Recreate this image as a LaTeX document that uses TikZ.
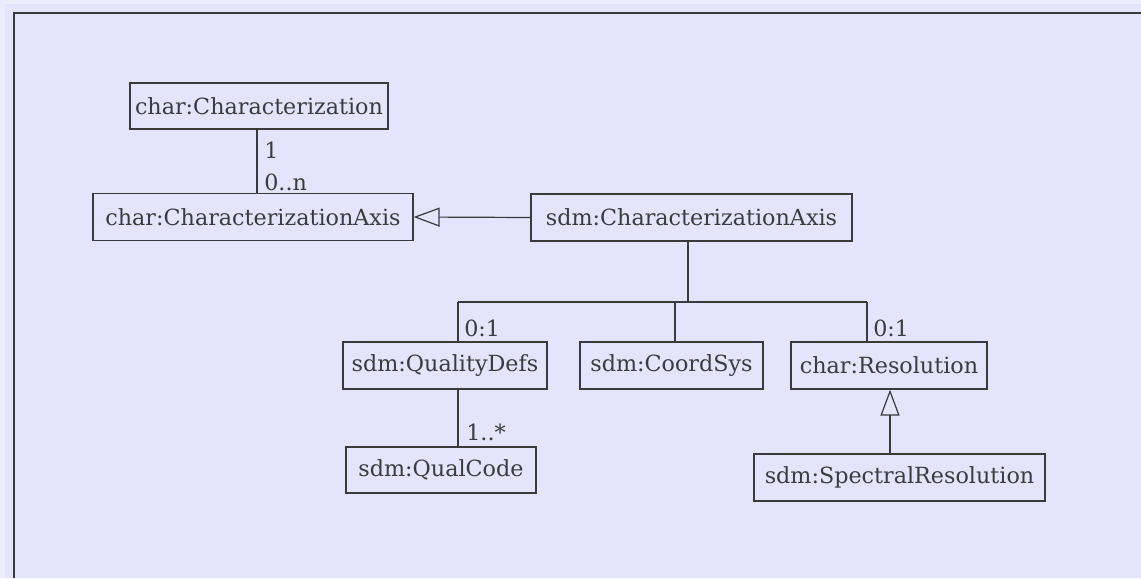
\documentclass[tikz,border=0pt]{standalone}
\usepackage{fontspec}
\setmainfont{DejaVu Serif}
\usetikzlibrary{arrows.meta}

\definecolor{bgpane}{HTML}{E4E4FC}
\definecolor{bgedge}{HTML}{ECECFB}
\definecolor{umlline}{HTML}{3A3A3A}
\definecolor{umltext}{HTML}{3C3C3C}

\newlength\pxl
\setlength\pxl{0.75pt}

\tikzset{
  umlbox/.style={draw=umlline, line width=1.2\pxl, text=umltext, inner sep=0pt,
    minimum height=47\pxl, font=\fontsize{16.7pt}{19pt}\selectfont},
  mult/.style={text=umltext, inner sep=0pt, anchor=west,
    font=\fontsize{16.7pt}{19pt}\selectfont},
  link/.style={draw=umlline, line width=1.2\pxl},
  gen/.style={link, -{Triangle[open, length=19.5pt, width=14.25pt]}}
}

\begin{document}
\begin{tikzpicture}[x=0.75pt, y=-0.75pt]
\fill[bgedge] (0,0) rectangle (1141,578);
\fill[bgpane] (5,4) rectangle (1141,578);
\useasboundingbox (0,0) rectangle (1141,578);
\draw[umlline, line width=1.6\pxl] (14,578) -- (14,13) -- (1141,13);

% classes
\node[umlbox, minimum width=258\pxl, minimum height=46\pxl] (charChar) at (259,106) {char:Characterization};
\node[umlbox, minimum width=320\pxl] (charAxis) at (253,217) {char:CharacterizationAxis};
\node[umlbox, minimum width=321\pxl] (sdmAxis) at (691.5,217.5) {sdm:CharacterizationAxis};
\node[umlbox, minimum width=204\pxl] (qualDefs) at (445,365.5) {sdm:QualityDefs};
\node[umlbox, minimum width=183\pxl] (coordSys) at (671.5,365.5) {sdm:CoordSys};
\node[umlbox, minimum width=196\pxl] (resolution) at (889,365.5) {char:Resolution};
\node[umlbox, minimum width=190\pxl, minimum height=46\pxl] (qualCode) at (441,470) {sdm:QualCode};
\node[umlbox, minimum width=291\pxl] (spectral) at (899.5,477.5) {sdm:SpectralResolution};

% associations
\draw[link] (257,0 |- charChar.south) -- (257,0 |- charAxis.north);
\node[mult] (multOne) at (264,150) {1};
\node[mult] (multMany) at (264,182) {0..n};

\draw[gen] (sdmAxis.west) -- (charAxis.east);

\coordinate (bus) at (688,302);
\coordinate (busL) at (458,302);
\coordinate (busR) at (867,302);
\draw[link] (bus |- sdmAxis.south) -- (bus);
\draw[link] (busL) -- (busR);
\draw[link] (busL) -- (busL |- qualDefs.north);
\draw[link] (675,302) -- (675,0 |- coordSys.north);
\draw[link] (busR) -- (busR |- resolution.north);
\node[mult] (multDefs) at (464,328) {0:1};
\node[mult] (multRes) at (873,328) {0:1};

\draw[link] (busL |- qualDefs.south) -- (busL |- qualCode.north);
\node[mult] (multCode) at (466,432) {1..*};

\draw[gen] (890,0 |- spectral.north) -- (890,0 |- resolution.south);

\end{tikzpicture}
\end{document}
